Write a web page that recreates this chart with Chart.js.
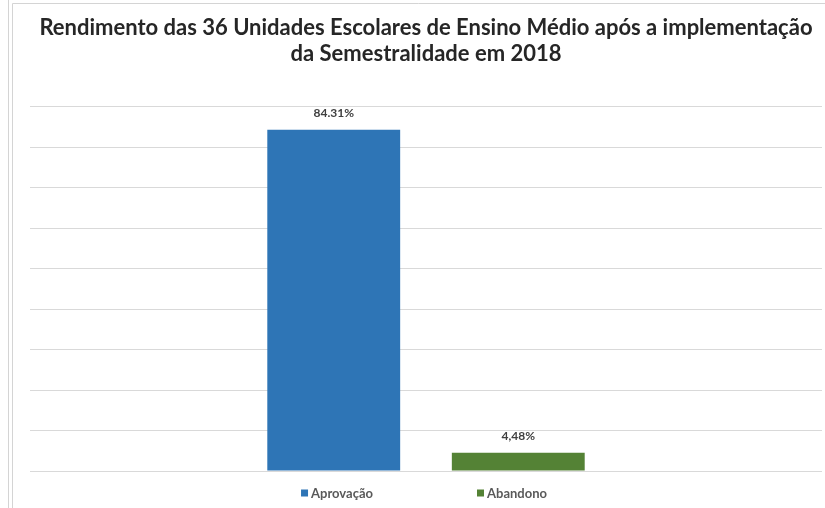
<!DOCTYPE html>
<html>
<head>
<meta charset="utf-8">
<script src="https://cdn.jsdelivr.net/npm/chart.js@4/dist/chart.umd.min.js"></script>
<style>
  html, body { margin: 0; padding: 0; background: #fff; }
  #wrap { width: 825px; height: 508px; position: relative; }
</style>
</head>
<body>
<div id="wrap"><canvas id="myChart" width="825" height="508"></canvas></div>
<script>
'use strict';

var categories = [''];
var seriesNames = ['Aprovação', 'Abandono'];
var seriesValues = [84.31, 4.48];
var valueLabels = ['84.31%', '4,48%'];
var seriesColors = ['#2E75B6', '#548235'];
var yTicks = [0, 10, 20, 30, 40, 50, 60, 70, 80, 90];

// frame lines of the sheet around the chart
var framePlugin = {
    id: 'frame',
    beforeDraw: function(chart) {
        var ctx = chart.ctx;
        ctx.save();
        ctx.fillStyle = '#ffffff';
        ctx.fillRect(0, 0, chart.width, chart.height);
        ctx.strokeStyle = '#d4d4d4';
        ctx.lineWidth = 1;
        ctx.beginPath();
        ctx.moveTo(8.5, 0);
        ctx.lineTo(8.5, chart.height);
        ctx.moveTo(12.5, chart.height);
        ctx.lineTo(12.5, 3.5);
        ctx.lineTo(chart.width, 3.5);
        ctx.stroke();
        ctx.restore();
    }
};

// value labels above the bars
var valueLabelPlugin = {
    id: 'valueLabels',
    afterDatasetsDraw: function(chart) {
        var ctx = chart.ctx;
        ctx.save();
        ctx.font = 'bold 12px Lato';
        ctx.fillStyle = '#404040';
        ctx.textAlign = 'center';
        ctx.textBaseline = 'middle';
        chart.data.datasets.forEach(function(ds, i) {
            var bar = chart.getDatasetMeta(i).data[0];
            ctx.fillText(valueLabels[i], bar.x, bar.y - 17);
        });
        ctx.restore();
    }
};

// legend spread out like the original
var spreadLegendPlugin = {
    id: 'spreadLegend',
    afterDraw: function(chart) {
        var ctx = chart.ctx;
        var area = chart.chartArea;
        var gap = 104;
        var box = 7;
        ctx.save();
        ctx.font = 'bold 13px Lato';
        ctx.textBaseline = 'middle';
        var widths = chart.data.datasets.map(function(ds) {
            return box + 3 + ctx.measureText(ds.label).width;
        });
        var total = widths.reduce(function(a, b) { return a + b; }, 0) + gap * (widths.length - 1);
        var x = (area.left + area.right) / 2 - total / 2 - 2;
        var y = 493;
        chart.data.datasets.forEach(function(ds, i) {
            ctx.fillStyle = ds.backgroundColor;
            ctx.fillRect(x, y - box / 2, box, box);
            ctx.fillStyle = '#595959';
            ctx.fillText(ds.label, x + box + 3, y + 1);
            x += widths[i] + gap;
        });
        ctx.restore();
    }
};

var datasets = seriesNames.map(function(name, i) {
    return {
        label: name,
        data: [seriesValues[i]],
        backgroundColor: seriesColors[i],
        borderWidth: 0,
        categoryPercentage: 0.466,
        barPercentage: 0.72
    };
});

new Chart(document.getElementById('myChart'), {
    type: 'bar',
    data: {
        labels: categories,
        datasets: datasets
    },
    options: {
        responsive: false,
        animation: false,
        layout: {
            padding: { left: 30, right: 3, top: 0, bottom: 37 }
        },
        plugins: {
            legend: { display: false },
            tooltip: { enabled: false },
            title: {
                display: true,
                text: ['Rendimento das 36 Unidades Escolares de Ensino Médio após a implementação',
                       'da Semestralidade em 2018'],
                color: '#262626',
                font: { family: 'Lato', size: 22, weight: 'bold', lineHeight: 1.22 },
                padding: { top: 14, bottom: 39 }
            }
        },
        scales: {
            x: {
                display: false
            },
            y: {
                min: yTicks[0],
                max: yTicks[yTicks.length - 1],
                afterBuildTicks: function(axis) {
                    axis.ticks = yTicks.map(function(v) { return { value: v }; });
                },
                ticks: { display: false },
                border: { display: false },
                grid: { color: '#d9d9d9', lineWidth: 1, drawTicks: false }
            }
        }
    },
    plugins: [framePlugin, valueLabelPlugin, spreadLegendPlugin]
});
</script>
</body>
</html>
